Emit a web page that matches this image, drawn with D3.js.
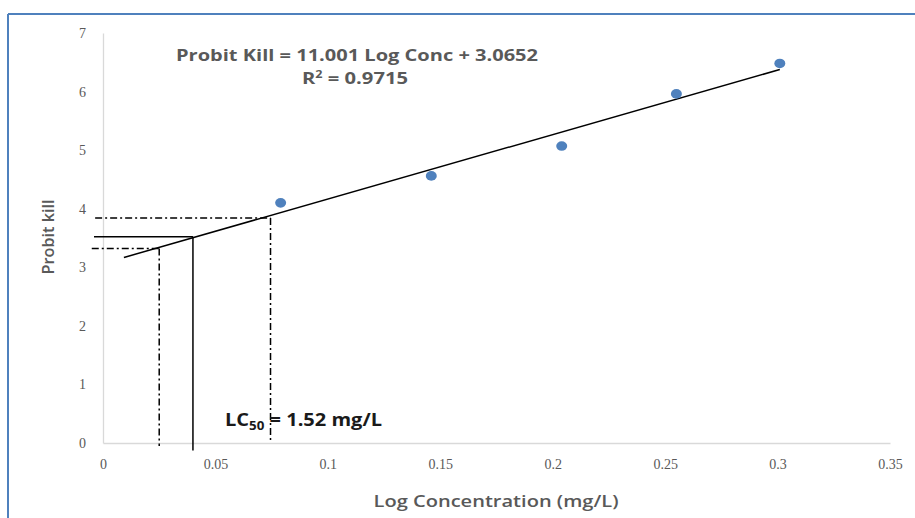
<!DOCTYPE html>
<html>
<head>
<meta charset="utf-8">
<script src="https://cdn.jsdelivr.net/npm/d3@7"></script>
<style>
  html, body { margin: 0; padding: 0; background: #fff; }
  svg { display: block; }
</style>
</head>
<body>
<svg id="chart" width="915" height="518"></svg>
<script>
// ---- data ----
const logConc = [0.079, 0.146, 0.204, 0.255, 0.301];
const probitKill = [4.10, 4.56, 5.07, 5.96, 6.48];
const slope = 11.001;
const intercept = 3.0652;
const trendStart = 0.0093;
const trendEnd = 0.301;
const xTicks = [0, 0.05, 0.1, 0.15, 0.2, 0.25, 0.3, 0.35];
const yTicks = [0, 1, 2, 3, 4, 5, 6, 7];
// reference (LC) guide lines: x position and probit level
const guideX = [0.025, 0.040, 0.0745];
const guideY = [3.32, 3.52, 3.84];
const guideStyle = ["dashdot", "solid", "dashdot"];
const guideLeft = [-0.005, -0.004, -0.0035];
const guideBottom = [-0.05, -0.13, 0.0];
const equationText = "Probit Kill = 11.001 Log Conc + 3.0652";
const r2Value = "0.9715";

// ---- drawing ----
const svg = d3.select("#chart");
const x = d3.scaleLinear().domain([0, 0.35]).range([103, 890]);
const y = d3.scaleLinear().domain([0, 7]).range([443, 33]);

// outer frame (top and left edges visible)
svg.append("line").attr("x1", 8).attr("x2", 915).attr("y1", 14).attr("y2", 14)
  .attr("stroke", "#4f81bd").attr("stroke-width", 2);
svg.append("line").attr("x1", 8).attr("x2", 8).attr("y1", 14).attr("y2", 518)
  .attr("stroke", "#4f81bd").attr("stroke-width", 2);

const tickFont = "'Liberation Serif', serif";
const titleFont = "'Open Sans', 'Liberation Sans', sans-serif";

// x axis
const xAxis = d3.axisBottom(x).tickValues(xTicks).tickSize(0).tickPadding(16)
  .tickFormat(d => String(+d.toFixed(2)));
const gx = svg.append("g").attr("transform", `translate(0,${y(0)})`).call(xAxis);
gx.select(".domain").attr("stroke", "#d9d9d9").attr("stroke-width", 1.3);
gx.selectAll("text").attr("font-family", tickFont).attr("font-size", 14).attr("fill", "#595959");

// y axis
const yAxis = d3.axisLeft(y).tickValues(yTicks).tickSize(0).tickPadding(17)
  .tickFormat(d3.format("d"));
const gy = svg.append("g").attr("transform", `translate(${x(0)},0)`).call(yAxis);
gy.select(".domain").attr("stroke", "#d9d9d9").attr("stroke-width", 1.3);
gy.selectAll("text").attr("font-family", tickFont).attr("font-size", 14).attr("fill", "#595959");

// axis titles
svg.append("text").attr("x", 496).attr("y", 507).attr("text-anchor", "middle")
  .attr("font-family", titleFont).attr("font-size", 17).attr("font-weight", 600)
  .attr("textLength", 245).attr("lengthAdjust", "spacingAndGlyphs")
  .attr("fill", "#595959").text("Log Concentration (mg/L)");
svg.append("text").attr("transform", "translate(54,237) rotate(-90)").attr("text-anchor", "middle")
  .attr("font-family", titleFont).attr("font-size", 17).attr("font-weight", 600)
  .attr("textLength", 75).attr("lengthAdjust", "spacingAndGlyphs")
  .attr("fill", "#595959").text("Probit kill");

// guide lines
guideX.forEach((gxv, i) => {
  const dash = guideStyle[i] === "solid" ? null : "7,3,2,3";
  const w = 1.5;
  svg.append("line")
    .attr("x1", x(guideLeft[i])).attr("x2", x(gxv))
    .attr("y1", y(guideY[i])).attr("y2", y(guideY[i]))
    .attr("stroke", "#000").attr("stroke-width", w).attr("stroke-dasharray", dash);
  svg.append("line")
    .attr("x1", x(gxv)).attr("x2", x(gxv))
    .attr("y1", y(guideY[i])).attr("y2", y(guideBottom[i]))
    .attr("stroke", "#000").attr("stroke-width", w).attr("stroke-dasharray", dash);
});

// trend line
svg.append("line")
  .attr("x1", x(trendStart)).attr("y1", y(slope * trendStart + intercept))
  .attr("x2", x(trendEnd)).attr("y2", y(slope * trendEnd + intercept))
  .attr("stroke", "#000").attr("stroke-width", 1.5);

// points
svg.append("g").selectAll("ellipse").data(logConc).join("ellipse")
  .attr("cx", (d) => x(d)).attr("cy", (d, i) => y(probitKill[i]))
  .attr("rx", 5.5).attr("ry", 4.8).attr("fill", "#4f81bd");

// equation
svg.append("text").attr("x", 357).attr("y", 61).attr("text-anchor", "middle")
  .attr("font-family", titleFont).attr("font-size", 16).attr("font-weight", 700)
  .attr("textLength", 362).attr("lengthAdjust", "spacingAndGlyphs")
  .attr("fill", "#595959").text(equationText);
const r2 = svg.append("text").attr("x", 355).attr("y", 84).attr("text-anchor", "middle")
  .attr("font-family", titleFont).attr("font-size", 16).attr("font-weight", 700)
  .attr("textLength", 106).attr("lengthAdjust", "spacingAndGlyphs")
  .attr("fill", "#595959");
r2.append("tspan").text("R");
r2.append("tspan").attr("dy", -6).attr("font-size", 10).text("2");
r2.append("tspan").attr("dy", 6).text(" = " + r2Value);

// LC50 label
const lc = svg.append("text").attr("x", 225).attr("y", 426)
  .attr("font-family", titleFont).attr("font-size", 18).attr("font-weight", 700)
  .attr("textLength", 157).attr("lengthAdjust", "spacingAndGlyphs")
  .attr("fill", "#1a1a1a");
lc.append("tspan").text("LC");
lc.append("tspan").attr("dy", 4).attr("font-size", 12).text("50");
lc.append("tspan").attr("dy", -4).text(" = 1.52 mg/L");
</script>
</body>
</html>
